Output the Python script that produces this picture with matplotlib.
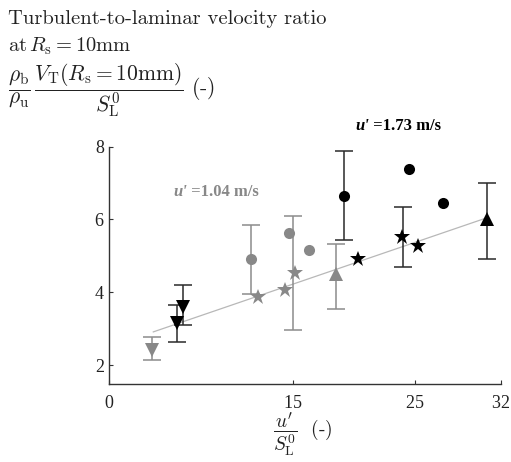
import numpy as np
import matplotlib
matplotlib.use('Agg')
import matplotlib.pyplot as plt

plt.rcParams['mathtext.fontset'] = 'cm'
plt.rcParams['axes.formatter.use_mathtext'] = True

# values
gray_circle_x = [11.61, 14.72, 16.38]
gray_circle_y = [4.90, 5.62, 5.16]
gray_star_x = [12.21, 14.39, 15.18]
gray_star_y = [3.86, 4.06, 4.54]
gray_tri_down_x = [3.55]
gray_tri_down_y = [2.41]
gray_tri_up_x = [18.56]
gray_tri_up_y = [4.50]

black_circle_x = [19.24, 24.55, 27.28]
black_circle_y = [6.65, 7.40, 6.44]
black_star_x = [20.33, 23.98, 25.21]
black_star_y = [4.90, 5.52, 5.27]
black_tri_down_x = [5.53, 6.08]
black_tri_down_y = [3.15, 3.60]
black_tri_up_x = [30.88]
black_tri_up_y = [6.00]

# error bars (x, centre, low, high)
gray_err_x = [3.55, 11.61, 15.07, 18.56]
gray_err_y = [2.41, 4.90, 4.54, 4.50]
gray_err_lo = [2.14, 3.95, 2.96, 3.54]
gray_err_hi = [2.78, 5.85, 6.10, 5.32]

black_err_x = [5.53, 6.08, 19.24, 24.06, 30.88]
black_err_y = [3.15, 3.60, 6.65, 5.52, 6.00]
black_err_lo = [2.64, 3.10, 5.43, 4.69, 4.90]
black_err_hi = [3.65, 4.20, 7.89, 6.33, 7.01]

# linear fit line
fit_x = [3.62, 31.0]
fit_y = [2.91, 6.06]

x_ticks = [0, 15, 25, 32]
y_ticks = [2, 4, 6, 8]

GRAY = '#888888'
GRAY_ERR = '#8c8c8c'
BLACK_ERR = '#2a2a2a'

W, H = 511, 462
fig = plt.figure(figsize=(W / 100, H / 100), dpi=100)
ax = fig.add_axes([109 / W, (H - 384) / H, (500.6 - 109) / W, (384 - 146.7) / H])

ax.plot(fit_x, fit_y, color='#b8b8b8', lw=0.9, zorder=1)

def err(xs, ys, lo, hi, color):
    ys = np.array(ys)
    yerr = [ys - np.array(lo), np.array(hi) - ys]
    ax.errorbar(xs, ys, yerr=yerr, fmt='none', ecolor=color, elinewidth=1.1,
                capsize=6.2, capthick=1.1, zorder=2)

err(gray_err_x, gray_err_y, gray_err_lo, gray_err_hi, GRAY_ERR)
err(black_err_x, black_err_y, black_err_lo, black_err_hi, BLACK_ERR)

ax.plot(gray_circle_x, gray_circle_y, 'o', color=GRAY, ms=8, mew=0, zorder=3)
ax.plot(gray_star_x, gray_star_y, '*', color=GRAY, ms=12, mew=0, zorder=3)
ax.plot(gray_tri_down_x, gray_tri_down_y, 'v', color=GRAY, ms=10, mew=0, zorder=3)
ax.plot(gray_tri_up_x, gray_tri_up_y, '^', color=GRAY, ms=10, mew=0, zorder=3)

ax.plot(black_circle_x, black_circle_y, 'o', color='black', ms=8, mew=0, zorder=3)
ax.plot(black_star_x, black_star_y, '*', color='black', ms=12, mew=0, zorder=3)
ax.plot(black_tri_down_x, black_tri_down_y, 'v', color='black', ms=10, mew=0, zorder=3)
ax.plot(black_tri_up_x, black_tri_up_y, '^', color='black', ms=10, mew=0, zorder=3)

ax.set_xlim(0, 32)
ax.set_ylim(2 - 19 / 36.4, 8)
ax.set_xticks(x_ticks)
ax.set_yticks(y_ticks)
for s in ['top', 'right']:
    ax.spines[s].set_visible(False)
for s in ['left', 'bottom']:
    ax.spines[s].set_color('#333333')
    ax.spines[s].set_linewidth(1.0)
ax.tick_params(direction='in', length=3, color='#333333', labelcolor='#222222')
ax.tick_params(axis='x', pad=8)
ax.tick_params(axis='y', pad=3)
for lab in ax.get_xticklabels() + ax.get_yticklabels():
    lab.set_fontfamily('Liberation Serif')
    lab.set_fontsize(13)

# velocity annotations
t1 = ax.text(5.23, 6.75, "u'", color=GRAY, fontfamily='Liberation Serif',
             fontweight='bold', fontstyle='italic', fontsize=12, va='center')
ax.annotate(' =1.04 m/s', xy=(1, 0), xycoords=t1, va='bottom', color=GRAY,
            fontfamily='Liberation Serif', fontweight='bold', fontsize=12)
t2 = ax.text(20.1, 8.57, "u'", color='black', fontfamily='Liberation Serif',
             fontweight='bold', fontstyle='italic', fontsize=12, va='center',
             clip_on=False)
ax.annotate(' =1.73 m/s', xy=(1, 0), xycoords=t2, va='bottom', color='black',
            fontfamily='Liberation Serif', fontweight='bold', fontsize=12,
            annotation_clip=False)

# titles and axis labels
fig.text(8 / W, 1 - 24 / H, 'Turbulent-to-laminar velocity ratio',
         fontfamily='cmr10', fontsize=14.8, va='baseline', color='#222222')
fig.text(8 / W, 1 - 52 / H, r'$\mathrm{at}\,R_\mathrm{s} = 10\mathrm{mm}$',
         fontsize=14.8, va='baseline', color='#222222')
fig.text(8 / W, 1 - 90 / H,
         r'$\dfrac{\rho_\mathrm{b}}{\rho_\mathrm{u}}\,'
         r'\dfrac{V_\mathrm{T}(R_\mathrm{s} = 10\mathrm{mm})}{S_\mathrm{L}^0}$ (-)',
         fontfamily='cmr10', fontsize=15.5, va='center', color='#222222')
fig.text(303 / W, 1 - 435 / H, r"$\dfrac{u'}{S_\mathrm{L}^0}$  (-)",
         fontfamily='cmr10', fontsize=14, ha='center', va='center',
         color='#222222')

fig.savefig('out.png', dpi=100)
